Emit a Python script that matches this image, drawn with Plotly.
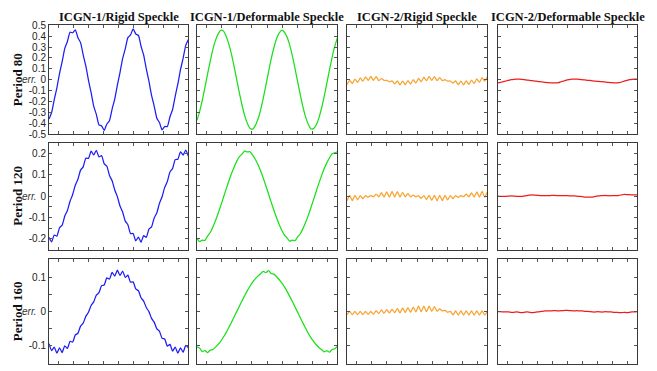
import plotly.graph_objects as go
from plotly.subplots import make_subplots

# ---------------- data ----------------
COL_TITLES = ["ICGN-1/Rigid Speckle", "ICGN-1/Deformable Speckle",
              "ICGN-2/Rigid Speckle", "ICGN-2/Deformable Speckle"]
ROW_TITLES = ["Period 80", "Period 120", "Period 160"]
Y_LABEL = "err."

X = [7.5, 11, 14.5, 18, 21.5, 25, 28.5, 32, 35.5, 39, 42.5, 46, 49.5, 53, 56.5, 60,
     63.5, 67, 70.5, 74, 77.5, 81, 84.5, 88, 91.5, 95, 98.5, 102, 105.5, 109, 112.5,
     116, 119.5, 123, 126.5, 130, 133.5, 137, 140.5, 144, 147.5, 151, 154.5, 158,
     161.5, 165, 168.5, 172, 175.5, 179, 182.5, 186, 189.5, 193]

BLUE_P80 = [-0.361, -0.302, -0.183, -0.074, 0.057, 0.166, 0.288, 0.352, 0.437, 0.432,
            0.458, 0.387, 0.341, 0.228, 0.127, -0.004, -0.117, -0.243, -0.319, -0.415,
            -0.425, -0.466, -0.407, -0.377, -0.270, -0.178, -0.049, 0.066, 0.195, 0.283,
            0.387, 0.412, 0.467, 0.421, 0.407, 0.308, 0.227, 0.100, -0.014, -0.144,
            -0.242, -0.354, -0.394, -0.462, -0.430, -0.431, -0.341, -0.274, -0.150, -0.039,
            0.092, 0.197, 0.316, 0.370]
GREEN_P80 = [-0.374, -0.292, -0.189, -0.070, 0.053, 0.172, 0.279, 0.364, 0.422, 0.455,
             0.447, 0.401, 0.330, 0.235, 0.122, 0.000, -0.122, -0.235, -0.330, -0.401,
             -0.447, -0.455, -0.422, -0.364, -0.279, -0.172, -0.053, 0.070, 0.189, 0.292,
             0.374, 0.428, 0.456, 0.437, 0.393, 0.318, 0.220, 0.105, -0.018, -0.139,
             -0.250, -0.342, -0.409, -0.452, -0.450, -0.416, -0.353, -0.265, -0.156, -0.035,
             0.088, 0.204, 0.306, 0.384]
ORANGE_P80 = [-0.045, -0.005, -0.036, 0.006, -0.025, 0.017, -0.014, 0.026, -0.007, 0.030,
              -0.006, 0.028, -0.009, 0.011, -0.007, -0.006, -0.019, -0.011, -0.039, -0.010,
              -0.048, -0.012, -0.047, -0.008, -0.040, 0.001, -0.030, 0.012, -0.018, 0.023,
              -0.010, 0.029, -0.006, 0.029, -0.009, 0.020, -0.008, 0.000, -0.013, -0.012,
              -0.030, -0.011, -0.046, -0.012, -0.048, -0.010, -0.044, -0.003, -0.034, 0.007,
              -0.023, 0.019, -0.013, 0.027]
RED_P80 = [-0.030, -0.024, -0.018, -0.012, -0.006, 0.000, 0.004, 0.006, 0.005, 0.003,
           0.000, -0.003, -0.006, -0.009, -0.012, -0.015, -0.018, -0.021, -0.024, -0.026,
           -0.028, -0.029, -0.030, -0.027, -0.019, -0.012, -0.004, 0.001, 0.005, 0.006,
           0.005, 0.003, 0.000, -0.002, -0.005, -0.007, -0.010, -0.013, -0.015, -0.017,
           -0.020, -0.022, -0.025, -0.027, -0.029, -0.030, -0.027, -0.021, -0.013, -0.006,
           0.000, 0.003, 0.005, 0.006]

BLUE_P120 = [-0.193, -0.214, -0.182, -0.187, -0.148, -0.136, -0.093, -0.067, -0.024, 0.008,
             0.051, 0.079, 0.122, 0.137, 0.178, 0.177, 0.211, 0.193, 0.215, 0.184,
             0.190, 0.151, 0.140, 0.097, 0.072, 0.029, -0.002, -0.046, -0.074, -0.117,
             -0.134, -0.175, -0.175, -0.209, -0.192, -0.216, -0.185, -0.193, -0.154, -0.144,
             -0.102, -0.078, -0.034, -0.003, 0.041, 0.069, 0.113, 0.130, 0.171, 0.173,
             0.208, 0.192, 0.216, 0.187]
GREEN_P120 = [-0.198, -0.213, -0.206, -0.207, -0.187, -0.170, -0.144, -0.114, -0.080, -0.044,
              -0.005, 0.033, 0.070, 0.105, 0.136, 0.163, 0.185, 0.197, 0.212, 0.207,
              0.208, 0.192, 0.173, 0.148, 0.119, 0.085, 0.049, 0.011, -0.028, -0.065,
              -0.100, -0.132, -0.160, -0.182, -0.195, -0.211, -0.206, -0.209, -0.191, -0.176,
              -0.152, -0.123, -0.091, -0.054, -0.016, 0.022, 0.060, 0.095, 0.128, 0.156,
              0.179, 0.199, 0.203, 0.208]
ORANGE_P120 = [-0.022, 0.004, -0.021, 0.004, -0.017, 0.003, -0.012, 0.003, -0.005, 0.003,
               -0.003, 0.010, -0.003, 0.016, -0.004, 0.020, -0.004, 0.022, -0.004, 0.021,
               -0.004, 0.018, -0.003, 0.012, -0.003, 0.005, -0.003, 0.002, -0.010, 0.003,
               -0.016, 0.004, -0.020, 0.004, -0.022, 0.004, -0.021, 0.004, -0.018, 0.003,
               -0.012, 0.003, -0.006, 0.002, -0.002, 0.009, -0.003, 0.015, -0.004, 0.020,
               -0.004, 0.022, -0.004, 0.021]
RED_P120 = [0.000, -0.001, -0.0015, -0.001, 0.000, 0.001, 0.000, -0.001, -0.0015, -0.001,
            0.001, 0.003, 0.0045, 0.006, 0.005, 0.004, 0.003, 0.002, 0.003, 0.002,
            0.003, 0.004, 0.003, 0.002, 0.003, 0.002, 0.003, 0.0015, 0.0015, 0.001,
            0.000, -0.001, -0.002, -0.004, -0.0045, -0.0045, -0.004, -0.0015, 0.001, 0.002,
            0.003, 0.003, 0.002, 0.002, 0.003, 0.003, 0.004, 0.006, 0.008, 0.0075,
            0.007, 0.006, 0.006, 0.006]

BLUE_P160 = [-0.095, -0.115, -0.105, -0.123, -0.107, -0.121, -0.101, -0.109, -0.088, -0.090,
             -0.069, -0.064, -0.043, -0.034, -0.014, -0.002, 0.018, 0.029, 0.049, 0.056,
             0.077, 0.079, 0.100, 0.096, 0.116, 0.105, 0.123, 0.107, 0.120, 0.101,
             0.108, 0.087, 0.088, 0.067, 0.062, 0.041, 0.031, 0.012, 0.000, -0.020,
             -0.031, -0.051, -0.058, -0.079, -0.081, -0.102, -0.097, -0.117, -0.105, -0.123,
             -0.107, -0.120, -0.100, -0.107]
GREEN_P160 = [-0.104, -0.108, -0.118, -0.115, -0.121, -0.114, -0.112, -0.105, -0.097, -0.087,
              -0.075, -0.062, -0.047, -0.032, -0.016, 0.000, 0.016, 0.032, 0.047, 0.062,
              0.075, 0.087, 0.097, 0.105, 0.112, 0.119, 0.115, 0.121, 0.113, 0.111,
              0.104, 0.095, 0.085, 0.073, 0.060, 0.045, 0.030, 0.014, -0.002, -0.018,
              -0.034, -0.049, -0.064, -0.077, -0.088, -0.098, -0.106, -0.112, -0.119, -0.115,
              -0.120, -0.112, -0.110, -0.103]
ORANGE_P160 = [-0.009, 0.001, -0.009, 0.001, -0.009, 0.001, -0.009, 0.001, -0.008, 0.001,
               -0.008, 0.003, -0.006, 0.005, -0.005, 0.006, -0.004, 0.007, -0.003, 0.010,
               -0.004, 0.011, -0.003, 0.012, -0.002, 0.013, -0.001, 0.016, 0.000, 0.016,
               0.000, 0.016, 0.001, 0.015, 0.001, 0.008, 0.002, 0.004, -0.002, 0.001,
               -0.010, 0.002, -0.010, 0.002, -0.010, 0.002, -0.010, 0.002, -0.010, 0.002,
               -0.010, 0.002, -0.010, 0.000]
RED_P160 = [0.000, 0.000, -0.001, -0.001, -0.001, -0.002, -0.002, -0.001, -0.002, -0.003,
            -0.002, -0.001, -0.002, -0.003, -0.002, -0.001, 0.000, 0.001, 0.002, 0.002,
            0.002, 0.003, 0.003, 0.002, 0.003, 0.003, 0.004, 0.003, 0.003, 0.002,
            0.003, 0.002, 0.002, 0.001, 0.001, 0.000, -0.001, -0.001, 0.000, -0.001,
            -0.001, 0.000, -0.001, -0.001, -0.002, -0.002, -0.003, -0.003, -0.002, -0.003,
            -0.002, -0.001, -0.001, 0.000]

SERIES = [[BLUE_P80, GREEN_P80, ORANGE_P80, RED_P80],
          [BLUE_P120, GREEN_P120, ORANGE_P120, RED_P120],
          [BLUE_P160, GREEN_P160, ORANGE_P160, RED_P160]]

X_TICKS = [20, 40, 60, 80, 100, 120, 140, 160, 180]
Y_TICKS = [
    [-0.5, -0.4, -0.3, -0.2, -0.1, 0, 0.1, 0.2, 0.3, 0.4, 0.5],
    [-0.2, -0.15, -0.1, -0.05, 0, 0.05, 0.1, 0.15, 0.2],
    [-0.1, -0.05, 0, 0.05, 0.1],
]
Y_TICKTEXT = [
    ["-0.5", "-0.4", "-0.3", "-0.2", "-0.1", "0", "0.1", "0.2", "0.3", "0.4", "0.5"],
    ["-0.2", "", "-0.1", "", "0", "", "0.1", "", "0.2"],
    ["-0.1", "", "0", "", "0.1"],
]

# ---------------- styling / layout ----------------
W, H = 657, 371
COLORS = ["#1c1cf5", "#19e019", "#f7a32d", "#ee1c1c"]
SMOOTH = [0.5, 0.7, 0.5, 0.7]
COL_PX = [(49, 188), (197, 337), (347, 487), (498, 637)]
ROW_PX = [(21, 133), (142, 252), (262, 370)]
Y_RANGES = [[-0.5, 0.5], [-0.25, 0.25], [-0.155, 0.155]]
X_RANGE = [7.5, 192.5]

TICK_FONT = dict(family="Liberation Sans, Arial, sans-serif", size=10, color="#222")
SERIF = "Liberation Serif, Times New Roman, serif"
FRAME = "#3a3a3a"

fig = make_subplots(rows=3, cols=4)

for r in range(3):
    for c in range(4):
        idx = r * 4 + c + 1
        fig.add_trace(go.Scatter(
            x=X, y=SERIES[r][c], mode="lines",
            line=dict(color=COLORS[c], width=1.25, shape="spline", smoothing=SMOOTH[c]),
            showlegend=False, hoverinfo="skip"), row=r + 1, col=c + 1)
        xk = "xaxis" if idx == 1 else f"xaxis{idx}"
        yk = "yaxis" if idx == 1 else f"yaxis{idx}"
        x0, x1 = COL_PX[c]
        y0, y1 = ROW_PX[r]
        fig.layout[xk].update(
            domain=[x0 / W, x1 / W], range=X_RANGE, tickvals=X_TICKS,
            showticklabels=False, ticks="inside", ticklen=3, tickwidth=1,
            tickcolor="#555", mirror="ticks", showline=True, linecolor=FRAME,
            linewidth=1, showgrid=False, zeroline=False)
        fig.layout[yk].update(
            domain=[1 - y1 / H, 1 - y0 / H], range=Y_RANGES[r],
            tickvals=Y_TICKS[r], ticktext=Y_TICKTEXT[r],
            showticklabels=(c == 0), tickfont=TICK_FONT,
            ticks="inside", ticklen=3, tickwidth=1, tickcolor="#555",
            mirror="ticks", showline=True, linecolor=FRAME, linewidth=1,
            showgrid=False, zeroline=False)

annotations = []
for c, t in enumerate(COL_TITLES):
    x0, x1 = COL_PX[c]
    annotations.append(dict(
        text=f"<b>{t}</b>", x=(x0 + x1) / 2 / W, y=1 - 12 / H, xref="paper", yref="paper",
        xanchor="center", yanchor="middle", showarrow=False,
        font=dict(family=SERIF, size=12.5, color="#111")))
for r, t in enumerate(ROW_TITLES):
    y0, y1 = ROW_PX[r]
    annotations.append(dict(
        text=f"<b>{t}</b>", x=17.5 / W, y=1 - (y0 + y1) / 2 / H, xref="paper", yref="paper",
        xanchor="center", yanchor="middle", textangle=-90, showarrow=False,
        font=dict(family=SERIF, size=13, color="#111")))
    yref = "y" if r == 0 else f"y{r * 4 + 1}"
    annotations.append(dict(
        text=f"<i>{Y_LABEL}</i>", x=39 / W, y=0, xref="paper", yref=yref,
        xanchor="right", yanchor="middle", showarrow=False,
        font=dict(family="Liberation Sans, Arial, sans-serif", size=10, color="#333")))

fig.update_layout(
    width=W, height=H, margin=dict(l=0, r=0, t=0, b=0),
    paper_bgcolor="white", plot_bgcolor="white",
    annotations=annotations, showlegend=False)

fig.write_html("out.html", config={"displayModeBar": False})
